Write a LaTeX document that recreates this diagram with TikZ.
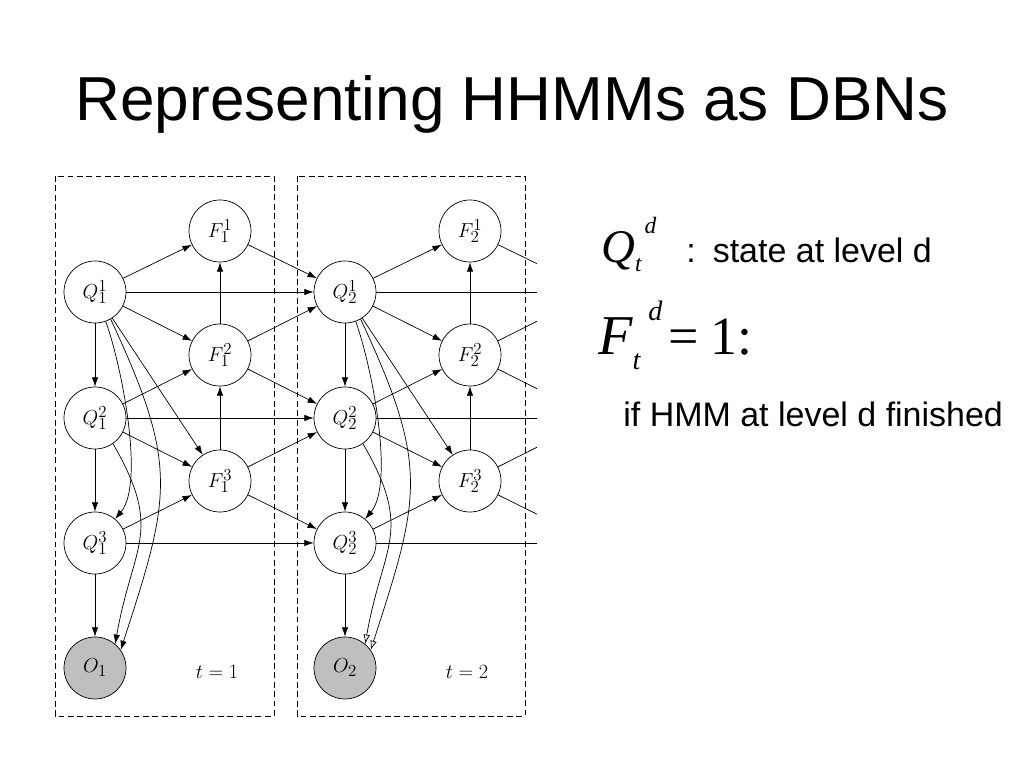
\documentclass[tikz,border=0pt]{standalone}
\usepackage[no-math]{fontspec}
\setmainfont{Liberation Sans}
\newfontfamily\tmsfont{Liberation Serif}
\usetikzlibrary{
  arrows.meta
}

\begin{document}
\begin{tikzpicture}[
    x=0.03cm,
    y=-0.03cm,
    line width=.6pt,
    >={Latex[length=8pt,width=5.5pt]},
    var/.style={circle,draw,minimum size=1.86cm,inner sep=0pt,font=\fontsize{19}{21}\selectfont},
    obs/.style={var,fill=black!25},
    slice/.style={draw,dashed,dash pattern=on 5pt off 3pt,line width=.6pt},
    open tip 1/.style={->},
    open tip 2/.style={-{Latex[open,length=8pt,width=5.5pt]}},
  ]
  \useasboundingbox (0,0) rectangle (1024,768);

  \node[anchor=base] (title) at (512,121) {\fontsize{53}{60}\selectfont Representing HHMMs as DBNs};

  % the two time slices
  \foreach \t/\x/\l/\r in {1/95/55/274, 2/345/297/525} {
    \draw[slice] (\l,176) rectangle (\r,716);
    \node[var] (q\t-1) at (\x,292) {$Q^1_\t$};
    \node[var] (q\t-2) at (\x,418) {$Q^2_\t$};
    \node[var] (q\t-3) at (\x,543) {$Q^3_\t$};
    \node[obs] (o\t) at (\x,668) {$O_\t$};
    \node[var] (f\t-1) at (\x+125,231) {$F^1_\t$};
    \node[var] (f\t-2) at (\x+125,355) {$F^2_\t$};
    \node[var] (f\t-3) at (\x+125,481) {$F^3_\t$};
    \node (lab\t) at (\x+122,672) {\fontsize{19}{21}\selectfont $t=\t$};
    \draw[->] (q\t-1) -- (q\t-2);
    \draw[->] (q\t-2) -- (q\t-3);
    \draw[->] (q\t-3) -- (o\t);
    \draw[->] (q\t-1) -- (f\t-1);
    \draw[->] (q\t-1) -- (f\t-2);
    \draw[->] (q\t-1) -- (f\t-3);
    \draw[->] (q\t-2) -- (f\t-2);
    \draw[->] (q\t-2) -- (f\t-3);
    \draw[->] (q\t-3) -- (f\t-3);
    \draw[->] (f\t-3) -- (f\t-2);
    \draw[->] (f\t-2) -- (f\t-1);
    \draw[->] (q\t-1) to[out=-70,in=50,looseness=.6] (q\t-3);
    \draw[open tip \t] (q\t-2.-55) to[out=-60,in=80,looseness=1.3] (o\t.50);
    \draw[open tip \t] (q\t-1.-60) to[out=-65,in=72,looseness=1.25] (o\t.35);
  }

  % links between slices, cut at the right
  \foreach \d/\y in {1/292, 2/418, 3/543}
    \coordinate (q3-\d) at (595,\y);
  \begin{scope}
    \clip (0,0) rectangle (537,768);
    \foreach \a/\b in {1/2, 2/3} {
      \draw[->] (f\a-1) -- (q\b-1);
      \draw[->] (q\a-1) -- (q\b-1);
      \draw[->] (f\a-2) -- (q\b-1);
      \draw[->] (f\a-2) -- (q\b-2);
      \draw[->] (q\a-2) -- (q\b-2);
      \draw[->] (f\a-3) -- (q\b-2);
      \draw[->] (f\a-3) -- (q\b-3);
      \draw[->] (q\a-3) -- (q\b-3);
    }
  \end{scope}

  % legend
  \node[anchor=base west,inner sep=0pt] (qsym) at (601,263) {\tmsfont\fontsize{40}{40}\selectfont\itshape Q\rlap{\kern.2em\raisebox{.62em}{\fontsize{20}{20}\selectfont d}}\raisebox{-.18em}{\fontsize{20}{20}\selectfont t}};
  \node[anchor=base west,inner sep=0pt] (qtext) at (686,263) {\fontsize{29}{32}\selectfont :\hspace{.5em}state at level d};
  \node[anchor=base west,inner sep=0pt] (fsym) at (598,355) {\tmsfont\fontsize{48}{48}\selectfont\itshape F\rlap{\kern.28em\raisebox{.62em}{\fontsize{24}{24}\selectfont d}}\raisebox{-.25em}{\fontsize{24}{24}\selectfont t}};
  \node[anchor=base west,inner sep=0pt] (fval) at (668,355) {\tmsfont\fontsize{46}{48}\selectfont =\kern.22em1:};
  \node[anchor=base west,inner sep=0pt] (fnote) at (623,427) {\fontsize{29}{32}\selectfont if HMM at level d finished};
\end{tikzpicture}
\end{document}
